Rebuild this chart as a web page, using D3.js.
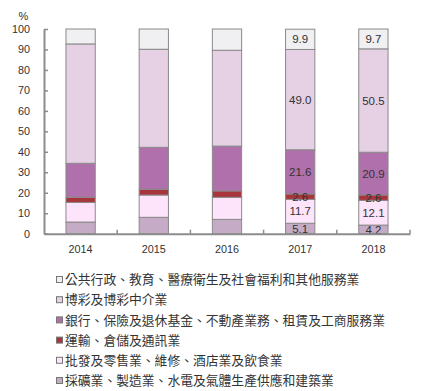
<!DOCTYPE html>
<html><head><meta charset="utf-8">
<script src="https://cdn.jsdelivr.net/npm/d3@7"></script>
<style>body{margin:0;background:#fff;}svg{display:block;}</style>
</head><body><svg id="c" width="425" height="391"></svg>
<script>
const years = ["2014","2015","2016","2017","2018"];
const seriesNames = [
  "採礦業、製造業、水電及氣體生產供應和建築業",
  "批發及零售業、維修、酒店業及飲食業",
  "運輸、倉儲及通訊業",
  "銀行、保險及退休基金、不動產業務、租賃及工商服務業",
  "博彩及博彩中介業",
  "公共行政、教育、醫療衛生及社會福利和其他服務業"
];
const mining    = [5.7, 8.0, 7.0, 5.1, 4.2];
const wholesale = [9.6, 10.9, 10.8, 11.7, 12.1];
const transport = [2.5, 2.8, 3.1, 2.6, 2.6];
const banking   = [16.6, 20.5, 21.9, 21.6, 20.9];
const gaming    = [58.3, 47.9, 46.8, 49.0, 50.5];
const publicSvc = [7.3, 9.9, 10.4, 9.9, 9.7];
const colors = ["#c5abc5","#fde4fb","#a8343c","#b070ab","#e6d0e4","#f0eff1"];
const yTicks = [0,10,20,30,40,50,60,70,80,90,100];
const labelYears = ["2017","2018"];

const allSeries = [mining, wholesale, transport, banking, gaming, publicSvc];
const keys = seriesNames;
const table = years.map((y,i)=>{const o={year:y}; keys.forEach((k,j)=>o[k]=allSeries[j][i]); return o;});
const stack = d3.stack().keys(keys)(table);

const svg = d3.select("#c");
const x = d3.scaleBand().domain(years).range([44,410]).paddingInner(0.6).paddingOuter(0.3);
const y = d3.scaleLinear().domain([0,100]).range([233.7,29]);

// bars
stack.forEach((s,j)=>{
  svg.append("g").selectAll("rect").data(s).join("rect")
    .attr("x",d=>x(d.data.year)).attr("width",x.bandwidth())
    .attr("y",d=>y(d[1])).attr("height",d=>y(d[0])-y(d[1]))
    .attr("fill",colors[j]).attr("stroke","#8a8a8a").attr("stroke-width",1);
});
// labels
stack.forEach((s,j)=>{
  svg.append("g").selectAll("text").data(s.filter(d=>labelYears.includes(d.data.year))).join("text")
    .attr("x",d=>x(d.data.year)+x.bandwidth()/2).attr("y",d=>(y(d[0])+y(d[1]))/2)
    .attr("dy","0.36em").attr("text-anchor","middle")
    .attr("font-family","Liberation Sans, Arial, sans-serif").attr("font-size",11.5)
    .attr("fill","#333").text(d=>(d[1]-d[0]).toFixed(1));
});

// y axis
const ya = svg.append("g").attr("transform","translate(44,0)")
  .call(d3.axisLeft(y).tickValues(yTicks).tickSizeInner(-4).tickSizeOuter(0).tickPadding(14));
ya.select(".domain").attr("stroke","#8c8c8c").attr("stroke-width",2);
ya.selectAll(".tick line").attr("stroke","#8c8c8c").attr("stroke-width",1.5);
ya.selectAll("text").attr("font-family","Liberation Sans, Arial, sans-serif").attr("font-size",10.8).attr("fill","#333");

// x axis
const xa = svg.append("g").attr("transform","translate(0,233.7)")
  .call(d3.axisBottom(x).tickSize(0).tickPadding(12));
xa.select(".domain").attr("stroke","#8c8c8c").attr("stroke-width",2);
xa.selectAll("text").attr("font-family","Liberation Sans, Arial, sans-serif").attr("font-size",10.8).attr("fill","#333");
svg.append("g").selectAll("line").data(years).join("line")
  .attr("x1",d=>x(d)-x.step()*x.paddingOuter()+x.step()).attr("x2",d=>x(d)-x.step()*x.paddingOuter()+x.step())
  .attr("y1",233.7).attr("y2",229.7).attr("stroke","#8c8c8c").attr("stroke-width",1.5);

svg.append("text").attr("x",23.5).attr("y",19.5).attr("text-anchor","middle")
  .attr("font-family","Liberation Sans, Arial, sans-serif").attr("font-size",11).attr("fill","#333").text("%");

// legend (top to bottom: reverse order)
const leg = svg.append("g");
const order = d3.range(seriesNames.length).reverse();
order.forEach((j,r)=>{
  const cy = 279.5 + r*20.2;
  leg.append("rect").attr("x",56.5).attr("y",cy-3).attr("width",6).attr("height",6)
    .attr("fill",colors[j]).attr("stroke","#777").attr("stroke-width",1);
  leg.append("text").attr("x",65).attr("y",cy).attr("dy","0.36em")
    .attr("font-family","Noto Sans CJK TC, sans-serif").attr("font-size",12.8).attr("fill","#333")
    .text(seriesNames[j]);
});
</script></body></html>
